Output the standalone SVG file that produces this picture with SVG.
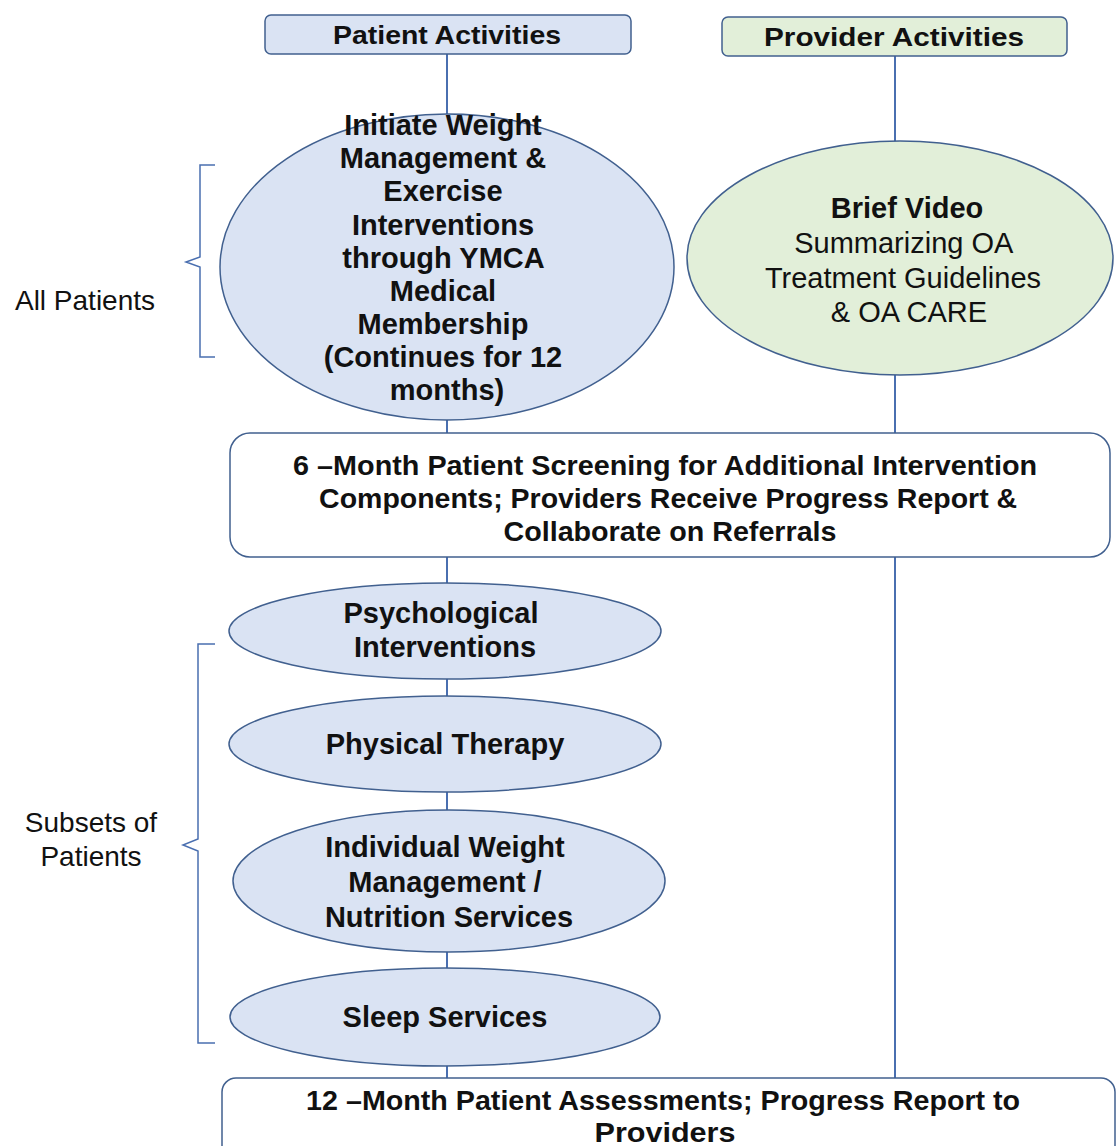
<svg xmlns="http://www.w3.org/2000/svg" width="1120" height="1146" viewBox="0 0 1120 1146">
<style>
.bg{fill:#ffffff}
.pbox{fill:#dae3f3;stroke:#41608f;stroke-width:1.5}
.gbox{fill:#e2efd9;stroke:#41608f;stroke-width:1.5}
.wbox{fill:#ffffff;stroke:#41608f;stroke-width:1.5}
.conn{stroke:#4a6fb0;stroke-width:2;fill:none}
.br{stroke:#4a6fb0;stroke-width:1.5;fill:none}
.t{font-family:"Liberation Sans",Arial,sans-serif;fill:#111;text-anchor:middle}
.b{font-weight:bold}
.n{font-family:"Liberation Sans Narrow","Liberation Sans",Arial,sans-serif;font-weight:bold;fill:#111;text-anchor:middle}
</style>
<rect class="bg" width="1120" height="1146"/>
<g id="connectors">
<line class="conn" x1="447" y1="54" x2="447" y2="114"/>
<line class="conn" x1="447" y1="420" x2="447" y2="433"/>
<line class="conn" x1="447" y1="557" x2="447" y2="584"/>
<line class="conn" x1="447" y1="679" x2="447" y2="696"/>
<line class="conn" x1="447" y1="792" x2="447" y2="810"/>
<line class="conn" x1="447" y1="952" x2="447" y2="969"/>
<line class="conn" x1="447" y1="1066" x2="447" y2="1078"/>
<line class="conn" x1="895" y1="56" x2="895" y2="142"/>
<line class="conn" x1="895" y1="375" x2="895" y2="433"/>
<line class="conn" x1="895" y1="557" x2="895" y2="1078"/>
</g>
<g id="brace-all">
<path class="br" d="M215,165 L200,165 L200,257 L186,262 L200,267 L200,357 L215,357"/>
<text class="t" x="85" y="310" font-size="28">All Patients</text>
</g>
<g id="brace-subsets">
<path class="br" d="M215,644 L198,644 L198,839 L183,845 L198,851 L198,1043 L215,1043"/>
<text class="t" x="91" y="832" font-size="28">Subsets of</text>
<text class="t" x="91" y="866" font-size="28">Patients</text>
</g>
<g id="patient-header">
<rect class="pbox" x="265" y="15" width="366" height="39" rx="6"/>
<text class="n" x="447" y="44" font-size="26" textLength="228" lengthAdjust="spacingAndGlyphs">Patient Activities</text>
</g>
<g id="provider-header">
<rect class="gbox" x="722" y="17" width="345" height="39" rx="6"/>
<text class="n" x="894" y="46" font-size="26" textLength="260" lengthAdjust="spacingAndGlyphs">Provider Activities</text>
</g>
<g id="ymca">
<ellipse class="pbox" cx="447" cy="267" rx="227" ry="153"/>
<text class="t b" font-size="29">
<tspan x="447" y="135">Initiate Weight</tspan>
<tspan x="447" y="168">Management &amp;</tspan>
<tspan x="447" y="201">Exercise</tspan>
<tspan x="447" y="235">Interventions</tspan>
<tspan x="447" y="268">through YMCA</tspan>
<tspan x="447" y="301">Medical</tspan>
<tspan x="447" y="334">Membership</tspan>
<tspan x="447" y="367">(Continues for 12</tspan>
<tspan x="447" y="400">months)</tspan>
</text>
</g>
<g id="video">
<ellipse class="gbox" cx="900" cy="258" rx="213" ry="117"/>
<text class="t b" x="907" y="218" font-size="29">Brief Video</text>
<text class="t" font-size="29">
<tspan x="907" y="253">Summarizing OA</tspan>
<tspan x="907" y="288">Treatment Guidelines</tspan>
<tspan x="909" y="322">&amp; OA CARE</tspan>
</text>
</g>
<g id="screening">
<rect class="wbox" x="230" y="433" width="880" height="124" rx="20"/>
<text class="n" font-size="28">
<tspan x="669" y="475" textLength="744" lengthAdjust="spacingAndGlyphs">6 –Month Patient Screening for Additional Intervention</tspan>
<tspan x="672" y="508" textLength="698" lengthAdjust="spacingAndGlyphs">Components; Providers Receive Progress Report &amp;</tspan>
<tspan x="670" y="541" textLength="333" lengthAdjust="spacingAndGlyphs">Collaborate on Referrals</tspan>
</text>
</g>
<g id="psych">
<ellipse class="pbox" cx="445" cy="631" rx="216" ry="48"/>
<text class="t b" font-size="29">
<tspan x="445" y="623">Psychological</tspan>
<tspan x="445" y="657">Interventions</tspan>
</text>
</g>
<g id="pt">
<ellipse class="pbox" cx="445" cy="744" rx="216" ry="48"/>
<text class="t b" x="445" y="754" font-size="29">Physical Therapy</text>
</g>
<g id="iwm">
<ellipse class="pbox" cx="449" cy="881" rx="216" ry="71"/>
<text class="t b" font-size="29">
<tspan x="449" y="857">Individual Weight</tspan>
<tspan x="449" y="892">Management /</tspan>
<tspan x="449" y="927">Nutrition Services</tspan>
</text>
</g>
<g id="sleep">
<ellipse class="pbox" cx="445" cy="1017" rx="215" ry="49"/>
<text class="t b" x="445" y="1027" font-size="29">Sleep Services</text>
</g>
<g id="assessment">
<rect class="wbox" x="222" y="1078" width="893" height="90" rx="14"/>
<text class="n" font-size="28">
<tspan x="667" y="1110" textLength="714" lengthAdjust="spacingAndGlyphs">12 –Month Patient Assessments; Progress Report to</tspan>
<tspan x="665" y="1142" textLength="141" lengthAdjust="spacingAndGlyphs">Providers</tspan>
</text>
</g>
</svg>
